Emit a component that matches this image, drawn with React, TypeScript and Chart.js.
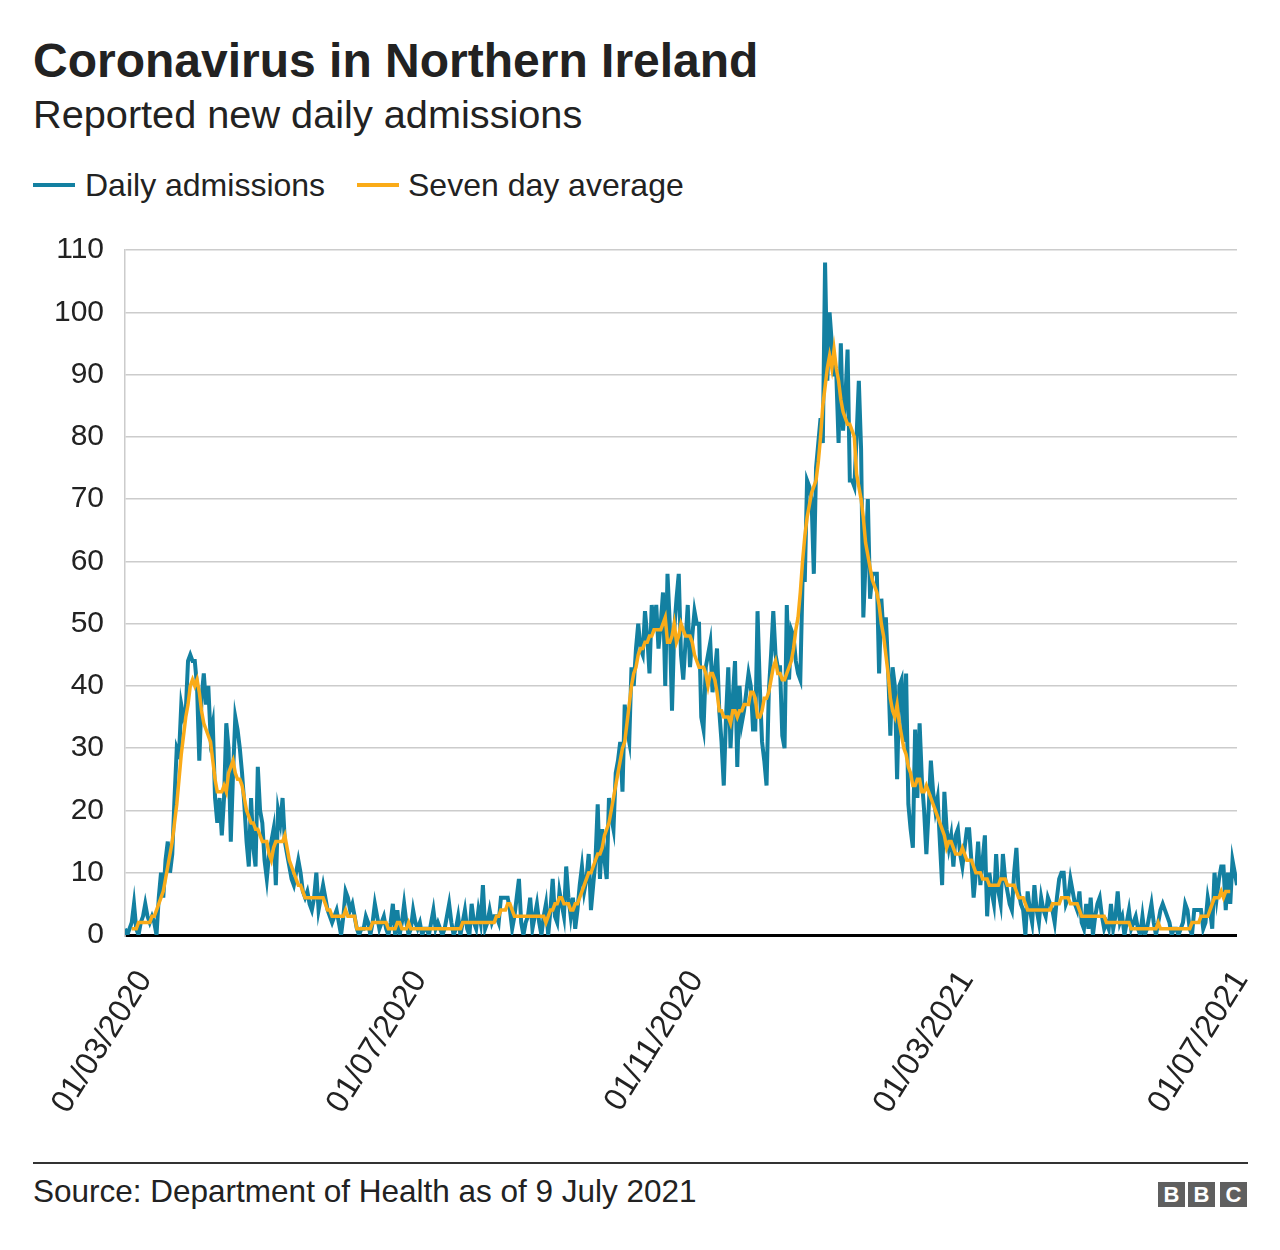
import React, { useEffect, useRef } from "react";
import { Chart, registerables } from "chart.js";

Chart.register(...registerables);

// Day index 0 = 01/03/2020, last day = 08/07/2021 (index 494)
const xTickDays = [0, 122, 245, 365, 487];
const xTickLabels = ["01/03/2020", "01/07/2020", "01/11/2020", "01/03/2021", "01/07/2021"];
const yTicks = [0, 10, 20, 30, 40, 50, 60, 70, 80, 90, 100, 110];

const seriesNames = ["Daily admissions", "Seven day average"];
const seriesColors = ["#1380A1", "#FAAB18"];

const daily = [
  1, 0, 1, 2, 5, 1, 0, 2, 3, 5,
  3, 2, 3, 2, 0, 6, 10, 6, 12, 15,
  10, 13, 22, 30, 29, 37, 35, 36, 44, 45,
  44, 44, 40, 28, 38, 42, 37, 40, 32, 34, 22,
  18, 22, 16, 22, 34, 30, 15, 26, 35, 33,
  30, 26, 21, 15, 11, 22, 14, 11, 27, 20,
  18, 12, 9, 13, 15, 17, 8, 20, 18, 22,
  15, 13, 11, 9, 8, 10, 12, 10, 7, 6,
  7, 5, 4, 6, 10, 4, 6, 8, 6, 4,
  3, 2, 3, 4, 2, 0, 3, 7, 6, 4,
  5, 3, 1, 0, 1, 1, 3, 2, 0, 2, 5,
  3, 1, 2, 3, 1, 0, 2, 5, 0, 4,
  0, 2, 5, 2, 0, 1, 4, 2, 1, 2,
  0, 1, 1, 0, 2, 4, 1, 2, 1, 0,
  1, 3, 5, 2, 0, 1, 3, 0, 2, 4,
  1, 0, 5, 2, 1, 4, 2, 8, 1, 2,
  4, 2, 3, 3, 2, 6, 6, 6, 6, 4,
  1, 3, 6, 9, 2, 0, 2, 3, 6, 1, 3,
  5, 2, 0, 3, 5, 0, 4, 9, 3, 2,
  7, 5, 3, 11, 6, 3, 6, 1, 4, 8,
  11, 7, 9, 13, 4, 8, 12, 21, 9, 17,
  12, 9, 22, 19, 17, 26, 28, 31, 23, 37,
  33, 31, 43, 40, 46, 50, 46, 45, 52, 48,
  42, 53, 49, 53, 46, 50, 55, 40, 58, 50,
  36, 49, 54, 58, 45, 41, 47, 53, 43, 48, 52,
  50, 50, 35, 33, 43, 45, 47, 39, 42, 46,
  36, 31, 24, 35, 43, 30, 38, 44, 27, 40,
  34, 36, 39, 42, 40, 33, 33, 52, 40, 31,
  28, 24, 39, 45, 52, 45, 43, 43, 32, 30,
  53, 41, 49, 48, 44, 42, 41, 57, 57, 73,
  72, 70, 58, 75, 79, 83, 79, 108, 89, 100,
  95, 90, 90, 79, 95, 81, 86, 94, 73, 73, 72,
  80, 89, 78, 51, 60, 70, 54, 58, 58, 58,
  42, 54, 48, 51, 43, 32, 43, 40, 25, 40,
  41, 31, 42, 21, 17, 14, 33, 22, 34, 25,
  20, 13, 20, 28, 23, 20, 22, 15, 8, 23,
  17, 14, 16, 11, 16, 17, 13, 11, 14, 17,
  17, 12, 6, 10, 15, 8, 12, 16, 3, 10,
  7, 5, 13, 7, 5, 13, 9, 7, 5, 4, 10,
  14, 7, 5, 4, 0, 7, 4, 2, 8, 4,
  2, 6, 4, 3, 6, 5, 4, 2, 6, 9,
  10, 10, 5, 6, 9, 7, 5, 4, 7, 2,
  1, 5, 1, 6, 0, 3, 5, 6, 3, 1,
  2, 1, 5, 1, 3, 7, 2, 3, 0, 2,
  4, 1, 2, 3, 1, 0, 3, 0, 1, 3,
  5, 2, 0, 2, 4, 5, 4, 3, 2, 0, 1,
  1, 0, 1, 2, 5, 4, 1, 0, 4, 4,
  4, 4, 1, 2, 6, 4, 1, 10, 6, 9,
  11, 11, 4, 10, 5, 12, 10, 8,
];

const sevenDayAverage = [
  null, null, null, 1, 1, 1, 2, 2, 2, 2,
  2, 2, 3, 3, 4, 5, 6, 7, 9, 11,
  13, 15, 18, 21, 25, 29, 32, 35, 37, 40,
  41, 40, 41, 39, 36, 34, 33, 32, 31, 28, 25,
  23, 23, 23, 24, 23, 26, 27, 28, 26, 25,
  25, 24, 22, 20, 19, 18, 18, 17, 17, 16,
  15, 15, 15, 13, 12, 14, 15, 15, 15, 15,
  16, 14, 12, 11, 10, 9, 8, 8, 7, 6,
  6, 6, 6, 6, 6, 6, 6, 6, 5, 4,
  4, 3, 3, 3, 3, 3, 3, 4, 3, 3,
  3, 3, 1, 1, 1, 1, 1, 1, 1, 2, 2,
  2, 2, 2, 2, 2, 1, 1, 1, 1, 2,
  2, 1, 1, 1, 2, 1, 1, 1, 1, 1,
  1, 1, 1, 1, 1, 1, 1, 1, 1, 1,
  1, 1, 1, 1, 1, 1, 1, 1, 2, 2,
  2, 2, 2, 2, 2, 2, 2, 2, 2, 2,
  2, 2, 2, 3, 3, 4, 4, 4, 5, 5,
  4, 3, 3, 3, 3, 3, 3, 3, 3, 3, 3,
  3, 3, 3, 3, 2, 3, 4, 4, 5, 5,
  6, 6, 5, 5, 5, 4, 4, 5, 5, 6,
  7, 8, 9, 10, 10, 11, 12, 13, 13, 14,
  16, 17, 18, 20, 22, 24, 26, 28, 30, 31,
  34, 37, 40, 42, 43, 45, 46, 46, 47, 47,
  48, 48, 49, 49, 49, 49, 50, 51, 47, 47,
  48, 50, 47, 48, 50, 49, 48, 48, 48, 47, 45,
  44, 43, 43, 43, 42, 40, 42, 42, 41, 39,
  36, 36, 35, 35, 35, 34, 36, 36, 35, 36,
  36, 37, 37, 37, 39, 39, 38, 35, 35, 36,
  38, 38, 39, 41, 43, 44, 42, 42, 41, 41,
  42, 43, 44, 46, 49, 51, 55, 60, 64, 67,
  69, 71, 72, 73, 76, 80, 85, 88, 91, 93,
  91, 94, 91, 89, 86, 84, 83, 82, 82, 81, 80,
  74, 72, 70, 67, 63, 61, 59, 57, 56, 55,
  53, 50, 48, 45, 42, 38, 36, 35, 37, 34,
  32, 30, 29, 27, 26, 24, 24, 25, 25, 23,
  23, 24, 23, 22, 21, 20, 19, 18, 17, 16,
  14, 15, 15, 14, 13, 13, 13, 14, 13, 12,
  12, 12, 11, 10, 10, 10, 9, 9, 9, 8,
  8, 8, 8, 8, 9, 9, 9, 8, 8, 8, 8,
  7, 6, 6, 6, 5, 4, 4, 4, 4, 4,
  4, 4, 4, 4, 4, 4, 5, 5, 5, 5,
  6, 6, 6, 6, 5, 5, 5, 5, 4, 3,
  3, 3, 3, 3, 3, 3, 3, 3, 3, 3,
  2, 2, 2, 2, 2, 2, 2, 2, 2, 2,
  2, 1, 1, 1, 1, 1, 1, 1, 1, 1,
  1, 1, 1, 2, 1, 1, 1, 1, 1, 1, 1,
  1, 1, 1, 1, 1, 1, 1, 2, 2, 2,
  2, 3, 3, 3, 3, 4, 5, 6, 6, 6,
  7, 6, 7, 7, 7, null, null, null,
];

const FONT = '"Liberation Sans", Arial, Helvetica, sans-serif';

export default function App() {
  const ref = useRef<HTMLCanvasElement>(null);

  useEffect(() => {
    if (!ref.current) return;
    const chart = new Chart(ref.current, {
      type: "line",
      data: {
        datasets: [
          {
            label: seriesNames[1],
            data: sevenDayAverage.map((v, i) => ({ x: i, y: v })),
            borderColor: seriesColors[1],
            backgroundColor: seriesColors[1],
            borderWidth: 3.5,
            pointRadius: 0,
            tension: 0,
            order: 0,
          },
          {
            label: seriesNames[0],
            data: daily.map((v, i) => ({ x: i, y: v })),
            borderColor: seriesColors[0],
            backgroundColor: seriesColors[0],
            borderWidth: 4,
            pointRadius: 0,
            tension: 0,
            order: 1,
          },
        ],
      },
      options: {
        animation: false,
        responsive: false,
        maintainAspectRatio: false,
        layout: { padding: { top: 50, right: 43, left: 0, bottom: 0 } },
        plugins: { legend: { display: false }, tooltip: { enabled: false } },
        scales: {
          x: {
            type: "linear",
            min: 0,
            max: daily.length - 1,
            afterBuildTicks: (s: any) => {
              s.ticks = xTickDays.map((v) => ({ value: v }));
            },
            afterFit: (s: any) => {
              s.height = 215;
              s.paddingRight = 0;
              s.paddingLeft = 0;
            },
            ticks: {
              autoSkip: false,
              minRotation: 58,
              maxRotation: 58,
              padding: 21,
              labelOffset: 20,
              color: "#222222",
              font: { family: FONT, size: 32 },
              callback: (v: any) => {
                const i = xTickDays.indexOf(Number(v));
                return i >= 0 ? xTickLabels[i] : "";
              },
            },
            grid: { display: false },
            border: { display: false },
          },
          y: {
            min: 0,
            max: 110,
            afterBuildTicks: (s: any) => {
              s.ticks = yTicks.map((v) => ({ value: v }));
            },
            afterFit: (s: any) => {
              s.width = 125;
            },
            ticks: {
              padding: 21,
              color: "#222222",
              font: { family: FONT, size: 30 },
            },
            grid: {
              drawTicks: false,
              color: (ctx: any) => (ctx.tick && ctx.tick.value === 0 ? "#000000" : "#cccccc"),
              lineWidth: (ctx: any) => (ctx.tick && ctx.tick.value === 0 ? 3 : 1.5),
            },
            border: { display: true, color: "#cccccc", width: 1.5 },
          },
        },
      },
    });
    return () => chart.destroy();
  }, []);

  const text: React.CSSProperties = {
    position: "absolute",
    fontFamily: FONT,
    color: "#222222",
    lineHeight: 1,
    whiteSpace: "nowrap",
    margin: 0,
  };

  const logoBox = (left: number, letter: string) => (
    <div
      key={left}
      style={{
        position: "absolute",
        left,
        top: 1182,
        width: 27,
        height: 25,
        background: "#5f5f5f",
        color: "#ffffff",
        fontFamily: FONT,
        fontWeight: 700,
        fontSize: 22,
        lineHeight: "25px",
        textAlign: "center",
      }}
    >
      {letter}
    </div>
  );

  return (
    <div
      style={{
        position: "absolute",
        left: 0,
        top: 0,
        width: 1280,
        height: 1250,
        background: "#ffffff",
        overflow: "hidden",
      }}
    >
      <div style={{ ...text, left: 33, top: 37, fontSize: 48, fontWeight: 700 }}>
        Coronavirus in Northern Ireland
      </div>
      <div style={{ ...text, left: 33, top: 95, fontSize: 39.7 }}>Reported new daily admissions</div>

      <div style={{ position: "absolute", left: 33, top: 183, width: 42, height: 4, background: seriesColors[0] }} />
      <div style={{ ...text, left: 85, top: 169, fontSize: 32 }}>{seriesNames[0]}</div>
      <div style={{ position: "absolute", left: 357, top: 183, width: 42, height: 4, background: seriesColors[1] }} />
      <div style={{ ...text, left: 408, top: 169, fontSize: 32 }}>{seriesNames[1]}</div>

      <canvas
        ref={ref}
        width={1280}
        height={950}
        style={{ position: "absolute", left: 0, top: 200, width: 1280, height: 950 }}
      />

      <div style={{ position: "absolute", left: 33, top: 1162, width: 1215, height: 2, background: "#333333" }} />
      <div style={{ ...text, left: 33, top: 1176, fontSize: 31.5 }}>Source: Department of Health as of 9 July 2021</div>
      {logoBox(1158, "B")}
      {logoBox(1188, "B")}
      {logoBox(1220, "C")}
    </div>
  );
}
